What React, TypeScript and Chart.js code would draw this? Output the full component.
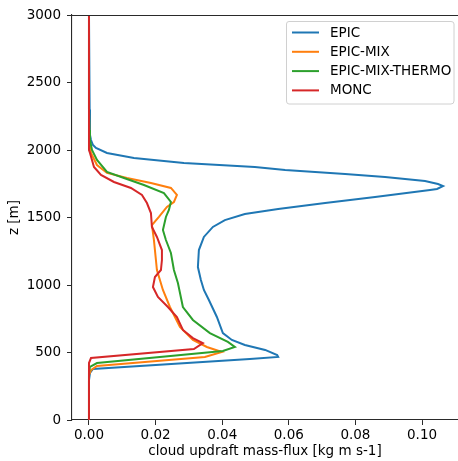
import React, { useEffect, useRef } from "react";
import { Chart, registerables } from "chart.js";

Chart.register(...registerables);

// ---- data (height z [m], cloud updraft mass-flux [kg m s-1]) ----
const seriesLabels = ["EPIC", "EPIC-MIX", "EPIC-MIX-THERMO", "MONC"];
const seriesColors = ["#1f77b4", "#ff7f0e", "#2ca02c", "#d62728"];

const epicZ = [3000, 2300, 2111, 2074, 2037, 2015, 1978, 1941, 1904, 1874, 1852, 1822, 1800, 1770, 1748, 1733, 1711, 1704, 1652, 1607, 1563, 1526, 1481, 1430, 1356, 1259, 1133, 1037, 963, 889, 763, 644, 593, 556, 519, 481, 467, 452, 378, 348, 296, 0];
const epicFlux = [0, 0.0002, 0.0003, 0.0006, 0.0012, 0.0021, 0.0054, 0.0135, 0.0285, 0.0498, 0.0589, 0.0769, 0.0889, 0.1009, 0.1048, 0.1063, 0.1045, 0.1024, 0.0859, 0.0709, 0.0568, 0.0468, 0.0408, 0.0372, 0.0345, 0.033, 0.0327, 0.0336, 0.0345, 0.036, 0.0384, 0.0402, 0.0429, 0.0468, 0.0529, 0.0565, 0.0568, 0.0483, 0.0012, 0.0003, 0, 0];

const mixZ = [3000, 2300, 2100, 2037, 1978, 1889, 1830, 1793, 1756, 1719, 1667, 1615, 1578, 1504, 1444, 1333, 1185, 1111, 963, 837, 689, 593, 541, 504, 467, 400, 370, 333, 0];
const mixFlux = [0, 0, 0.0001, 0.0002, 0.0006, 0.0024, 0.0054, 0.0114, 0.0186, 0.0246, 0.0264, 0.0255, 0.0234, 0.021, 0.0189, 0.0195, 0.0201, 0.0204, 0.0222, 0.0243, 0.0273, 0.0312, 0.0354, 0.0399, 0.0348, 0.0024, 0.0006, 0, 0];

const thermoZ = [3000, 2300, 2148, 2074, 2000, 1926, 1837, 1793, 1741, 1681, 1615, 1556, 1504, 1407, 1333, 1237, 1111, 1015, 837, 741, 644, 578, 541, 511, 422, 393, 356, 0];
const thermoFlux = [0, 0, 0.0001, 0.0003, 0.0009, 0.0024, 0.0054, 0.0105, 0.0165, 0.0225, 0.0246, 0.024, 0.0231, 0.0222, 0.0231, 0.0246, 0.0255, 0.0267, 0.0282, 0.0312, 0.0363, 0.0417, 0.0438, 0.0402, 0.0024, 0.0003, 0, 0];

const moncZ = [3000, 2300, 2000, 1978, 1874, 1815, 1763, 1719, 1667, 1607, 1533, 1430, 1356, 1259, 1185, 1111, 1059, 985, 911, 837, 763, 667, 607, 570, 526, 459, 422, 0];
const moncFlux = [0, 0, 0, 0.0003, 0.0015, 0.0036, 0.0075, 0.0126, 0.0159, 0.0174, 0.0186, 0.0189, 0.0204, 0.0219, 0.0219, 0.0216, 0.0198, 0.0192, 0.0207, 0.0237, 0.0264, 0.0282, 0.0312, 0.0342, 0.0315, 0.0006, 0, 0];

const xTicks = [0, 0.02, 0.04, 0.06, 0.08, 0.1];
const yTicks = [0, 500, 1000, 1500, 2000, 2500, 3000];
const xRange = [-0.0051, 0.1108];
const yRange = [0, 3000];

const FONT = "'DejaVu Sans', sans-serif";
const FS = 13.5;
const SPINE = "#2a2a2a";

const toPoints = (zs: number[], fs: number[]) => zs.map((z, i) => ({ x: fs[i], y: z }));

const topSpinePlugin = {
  id: "topSpine",
  afterDraw(chart: any) {
    const { ctx, chartArea } = chart;
    ctx.save();
    ctx.strokeStyle = SPINE;
    ctx.lineWidth = 1.1;
    ctx.beginPath();
    ctx.moveTo(chartArea.left, chartArea.top + 0.5);
    ctx.lineTo(chartArea.right, chartArea.top + 0.5);
    ctx.stroke();
    ctx.restore();
  },
};

const legendPlugin = {
  id: "mplLegend",
  afterDraw(chart: any) {
    const { ctx, chartArea } = chart;
    const w = 168;
    const h = 83;
    const x0 = chartArea.right - 4 - w;
    const y0 = chartArea.top + 6;
    ctx.save();
    ctx.beginPath();
    const r = 3;
    ctx.moveTo(x0 + r, y0 + 0.5);
    ctx.lineTo(x0 + w - r, y0 + 0.5);
    ctx.quadraticCurveTo(x0 + w, y0 + 0.5, x0 + w, y0 + r);
    ctx.lineTo(x0 + w, y0 + h - r);
    ctx.quadraticCurveTo(x0 + w, y0 + h, x0 + w - r, y0 + h);
    ctx.lineTo(x0 + r, y0 + h);
    ctx.quadraticCurveTo(x0 + 0.5, y0 + h, x0 + 0.5, y0 + h - r);
    ctx.lineTo(x0 + 0.5, y0 + r);
    ctx.quadraticCurveTo(x0 + 0.5, y0 + 0.5, x0 + r, y0 + 0.5);
    ctx.closePath();
    ctx.fillStyle = "rgba(255,255,255,0.8)";
    ctx.fill();
    ctx.strokeStyle = "#d0d0d0";
    ctx.lineWidth = 1;
    ctx.stroke();
    ctx.font = `${FS}px ${FONT}`;
    ctx.textBaseline = "middle";
    ctx.textAlign = "left";
    chart.data.datasets.forEach((ds: any, i: number) => {
      const yy = y0 + 11.5 + i * 19.3;
      ctx.strokeStyle = ds.borderColor;
      ctx.lineWidth = 2;
      ctx.beginPath();
      ctx.moveTo(x0 + 6, yy);
      ctx.lineTo(x0 + 33, yy);
      ctx.stroke();
      ctx.fillStyle = "#000";
      ctx.fillText(ds.label, x0 + 44, yy + 0.5);
    });
    ctx.restore();
  },
};

export default function App() {
  const ref = useRef<HTMLCanvasElement | null>(null);

  useEffect(() => {
    if (!ref.current) return;
    const series = [
      toPoints(epicZ, epicFlux),
      toPoints(mixZ, mixFlux),
      toPoints(thermoZ, thermoFlux),
      toPoints(moncZ, moncFlux),
    ];
    const chart = new Chart(ref.current, {
      type: "scatter",
      data: {
        datasets: series.map((pts, i) => ({
          label: seriesLabels[i],
          data: pts,
          showLine: true,
          borderColor: seriesColors[i],
          backgroundColor: seriesColors[i],
          borderWidth: 2,
          pointRadius: 0,
          tension: 0,
          order: 3 - i,
        })),
      },
      options: {
        animation: false,
        responsive: false,
        maintainAspectRatio: false,
        layout: { padding: { top: 15, right: 0, left: 0, bottom: 0 } },
        plugins: {
          legend: { display: false },
          tooltip: { enabled: false },
        },
        scales: {
          x: {
            type: "linear",
            min: xRange[0],
            max: xRange[1],
            afterBuildTicks: (s: any) => {
              s.ticks = xTicks.map((v) => ({ value: v }));
            },
            afterFit: (s: any) => {
              s.height = 41;
            },
            grid: { display: true, drawOnChartArea: false, drawTicks: true, tickLength: 5, color: SPINE },
            border: { display: true, color: SPINE, width: 1.1 },
            ticks: {
              padding: 2,
              color: "#000",
              font: { family: FONT, size: FS },
              callback: (v: any) => Number(v).toFixed(2),
              maxRotation: 0,
            },
            title: {
              display: true,
              text: "cloud updraft mass-flux [kg m s-1]",
              color: "#000",
              font: { family: FONT, size: FS },
              padding: { top: 0, bottom: 1 },
            },
          },
          y: {
            type: "linear",
            min: yRange[0],
            max: yRange[1],
            afterBuildTicks: (s: any) => {
              s.ticks = yTicks.map((v) => ({ value: v }));
            },
            afterFit: (s: any) => {
              s.width = 72;
            },
            grid: { display: true, drawOnChartArea: false, drawTicks: true, tickLength: 5, color: SPINE },
            border: { display: true, color: SPINE, width: 1.1 },
            ticks: {
              padding: 6,
              color: "#000",
              font: { family: FONT, size: FS },
              callback: (v: any) => String(v),
            },
            title: {
              display: true,
              text: "z [m]",
              color: "#000",
              font: { family: FONT, size: FS },
              padding: { top: 6, bottom: 0 },
            },
          },
        },
      },
      plugins: [topSpinePlugin, legendPlugin],
    });
    return () => chart.destroy();
  }, []);

  return (
    <div style={{ position: "absolute", left: 0, top: 0, width: 458, height: 461, background: "#fff" }}>
      <canvas ref={ref} width={458} height={461} style={{ display: "block", width: 458, height: 461 }} />
    </div>
  );
}
